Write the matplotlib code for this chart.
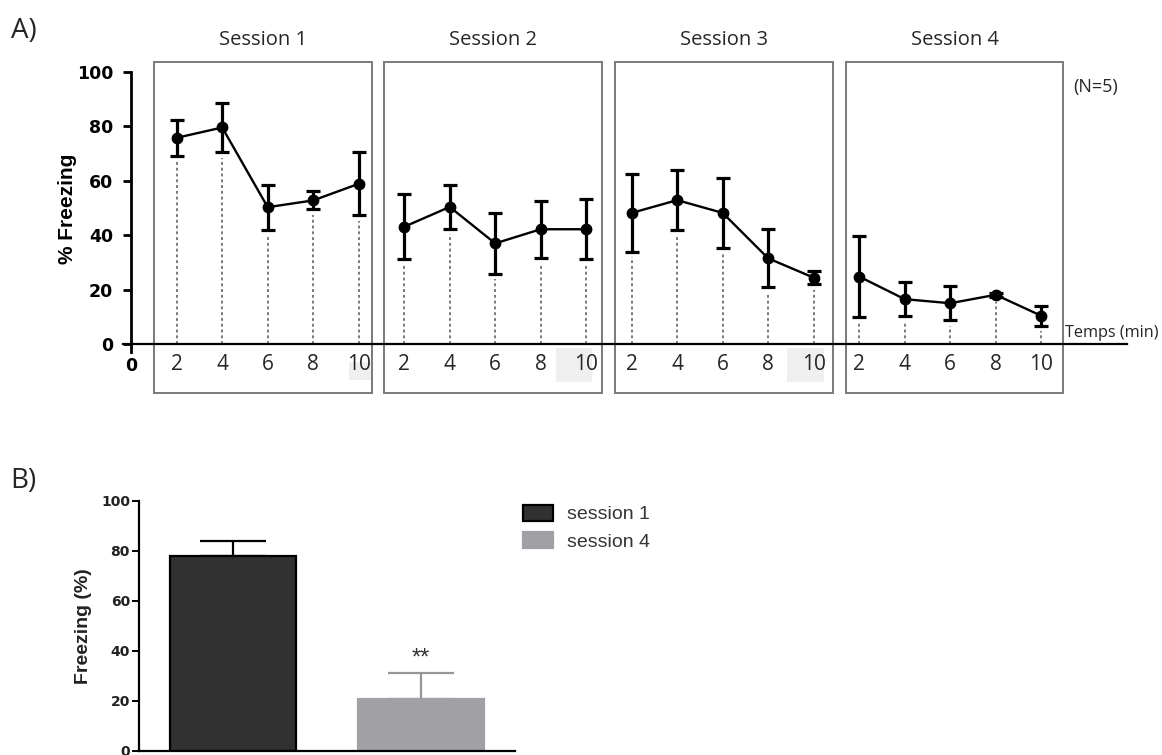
import matplotlib
matplotlib.use("Agg")
import matplotlib.pyplot as plt
from matplotlib.patches import Rectangle
import numpy as np

# ---------------- data ----------------
session_names = ["Session 1", "Session 2", "Session 3", "Session 4"]
minutes = [2, 4, 6, 8, 10]
s1_mean = [75.8, 79.6, 50.3, 52.8, 58.9]
s1_sem = [6.5, 9.1, 8.3, 3.3, 11.6]
s2_mean = [43.1, 50.4, 37.0, 42.2, 42.2]
s2_sem = [12.0, 8.0, 11.1, 10.5, 11.0]
s3_mean = [48.2, 52.9, 48.2, 31.5, 24.4]
s3_sem = [14.3, 11.0, 13.0, 10.7, 2.5]
s4_mean = [24.8, 16.5, 15.0, 18.1, 10.4]
s4_sem = [15.0, 6.2, 6.3, 0.8, 3.6]
yticks = [0, 20, 40, 60, 80, 100]

bar_labels = ["session 1", "session 4"]
bar_means = [78.0, 20.8]
bar_sem = [6.0, 10.2]
signif = "**"

means = [s1_mean, s2_mean, s3_mean, s4_mean]
sems = [s1_sem, s2_sem, s3_sem, s4_sem]

# ---------------- layout ----------------
W, H = 1162, 755
fig = plt.figure(figsize=(W / 100, H / 100), dpi=100)


def fx(px):
    return px / W


def fy(py):
    return 1 - py / H


OPEN = "Open Sans"
BOLD = "DejaVu Sans"
ARIAL = "Liberation Sans"

# ---------------- panel A ----------------
axA = fig.add_axes([fx(123), fy(352.2), fx(1127 - 123), (352.2 - 72) / H])
axA.set_xlim(-0.18, (1127 - 131.2) / 45.5)
axA.set_ylim(-3, 100)
axA.patch.set_alpha(0)
for s in ["top", "right"]:
    axA.spines[s].set_visible(False)
axA.spines["left"].set_position(("data", 0))
axA.spines["bottom"].set_position(("data", 0))
axA.spines["left"].set_linewidth(2.0)
axA.spines["bottom"].set_linewidth(1.6)

box_left = [0.51, 5.56, 10.64, 15.71]
box_width = 4.78
box_bottom, box_top = -18.0, 103.7
shade = [(4.79, 5.27, -13.2, -6.6), (9.34, 10.13, -14.0, -1.5), (14.42, 15.23, -14.0, -1.5)]
for (x0, x1, y0, y1) in shade:
    axA.add_patch(Rectangle((x0, y0), x1 - x0, y1 - y0, facecolor="#efefef",
                            edgecolor="none", clip_on=False, zorder=0))

xt_pos, xt_lab = [], []
for i, name in enumerate(session_names):
    xs = np.array([5 * i + m / 2 for m in minutes])
    mu = np.array(means[i])
    se = np.array(sems[i])
    # dotted drop lines
    axA.vlines(xs, 0, mu - se - 2.0, colors="#707070", linestyles=(0, (1.6, 1.6)),
               linewidth=1.3, zorder=1)
    axA.errorbar(xs, mu, yerr=se, color="black", linewidth=1.7, elinewidth=2.3,
                 capsize=4.8, capthick=2.3, marker="o", markersize=7.5, zorder=3)
    axA.add_patch(Rectangle((box_left[i], box_bottom), box_width, box_top - box_bottom,
                            facecolor="none", edgecolor="#7a7a7a", linewidth=1.4,
                            clip_on=False, zorder=0.5))
    axA.text(box_left[i] + box_width / 2, 111.8, name, ha="center", va="center",
             fontsize=14.5, family=OPEN, color="#262626")
    xt_pos += list(xs)
    xt_lab += [str(m) for m in minutes]

axA.set_xticks(xt_pos, xt_lab)
axA.tick_params(axis="x", length=0, pad=7, labelsize=15, labelcolor="#262626")
for lab in axA.get_xticklabels():
    lab.set_family(OPEN)
axA.set_yticks(yticks, [str(v) for v in yticks])
axA.tick_params(axis="y", direction="out", length=6, width=2, pad=7, labelsize=12.5)
for lab in axA.get_yticklabels():
    lab.set_family(BOLD)
    lab.set_fontweight("bold")
axA.text(0, -8, "0", ha="center", va="center", fontsize=12.5, fontweight="bold", family=BOLD)
axA.set_ylabel("% Freezing", fontsize=15, fontweight="bold", family=ARIAL)
axA.yaxis.set_label_coords(-0.046, 0.51)

fig.text(fx(1073), fy(87), "(N=5)", ha="left", va="center", fontsize=13, family=OPEN,
         color="#262626")
fig.text(fx(1065), fy(333), "Temps (min)", ha="left", va="center", fontsize=11.7,
         family=OPEN, color="#262626")
fig.text(fx(11), fy(31), "A)", ha="left", va="center", fontsize=20, family=OPEN,
         color="#262626")
fig.text(fx(10), fy(481), "B)", ha="left", va="center", fontsize=20, family=OPEN,
         color="#262626")

# ---------------- panel B ----------------
axB = fig.add_axes([fx(139), fy(750.7), fx(515 - 139), (750.7 - 500.7) / H])
axB.set_xlim(-0.5, 1.5)
axB.set_ylim(0, 100)
for s in ["top", "right"]:
    axB.spines[s].set_visible(False)
axB.spines["left"].set_linewidth(1.6)
axB.spines["bottom"].set_linewidth(1.6)
xb = np.arange(len(bar_means))
dark, grey = "#313131", "#a1a0a5"
bars = axB.bar(xb, bar_means, width=0.67, color=[dark, grey],
               edgecolor=["black", grey], linewidth=1.6, zorder=2)
err_cols = ["black", "#96969a"]
for k in range(len(bar_means)):
    axB.errorbar(xb[k], bar_means[k], yerr=[[0], [bar_sem[k]]], color=err_cols[k],
                 elinewidth=1.6, capsize=23.5, capthick=1.6, fmt="none", zorder=1)
axB.text(xb[1], bar_means[1] + bar_sem[1] + 6.0, signif, ha="center", va="center",
         fontsize=17, family=ARIAL, color="#333333")
axB.set_xticks([])
axB.set_yticks(yticks, [str(v) for v in yticks])
axB.tick_params(axis="y", direction="out", length=5, width=1.4, pad=1.5, labelsize=10)
for lab in axB.get_yticklabels():
    lab.set_family(BOLD)
    lab.set_fontweight("bold")
    lab.set_color("#222222")
axB.set_ylabel("Freezing (%)", fontsize=14, fontweight="bold", family=ARIAL, color="#222222")
axB.yaxis.set_label_coords(-0.125, 0.5)

leg = fig.legend(bars, bar_labels, loc="upper left",
                 bbox_to_anchor=(fx(523), fy(505)), bbox_transform=fig.transFigure,
                 frameon=False, borderpad=0, borderaxespad=0, handlelength=1.55,
                 handleheight=0.85, handletextpad=0.7, labelspacing=0.45,
                 prop={"family": ARIAL, "size": 14})
for t in leg.get_texts():
    t.set_color("#333333")

fig.savefig("out.png", dpi=100)
